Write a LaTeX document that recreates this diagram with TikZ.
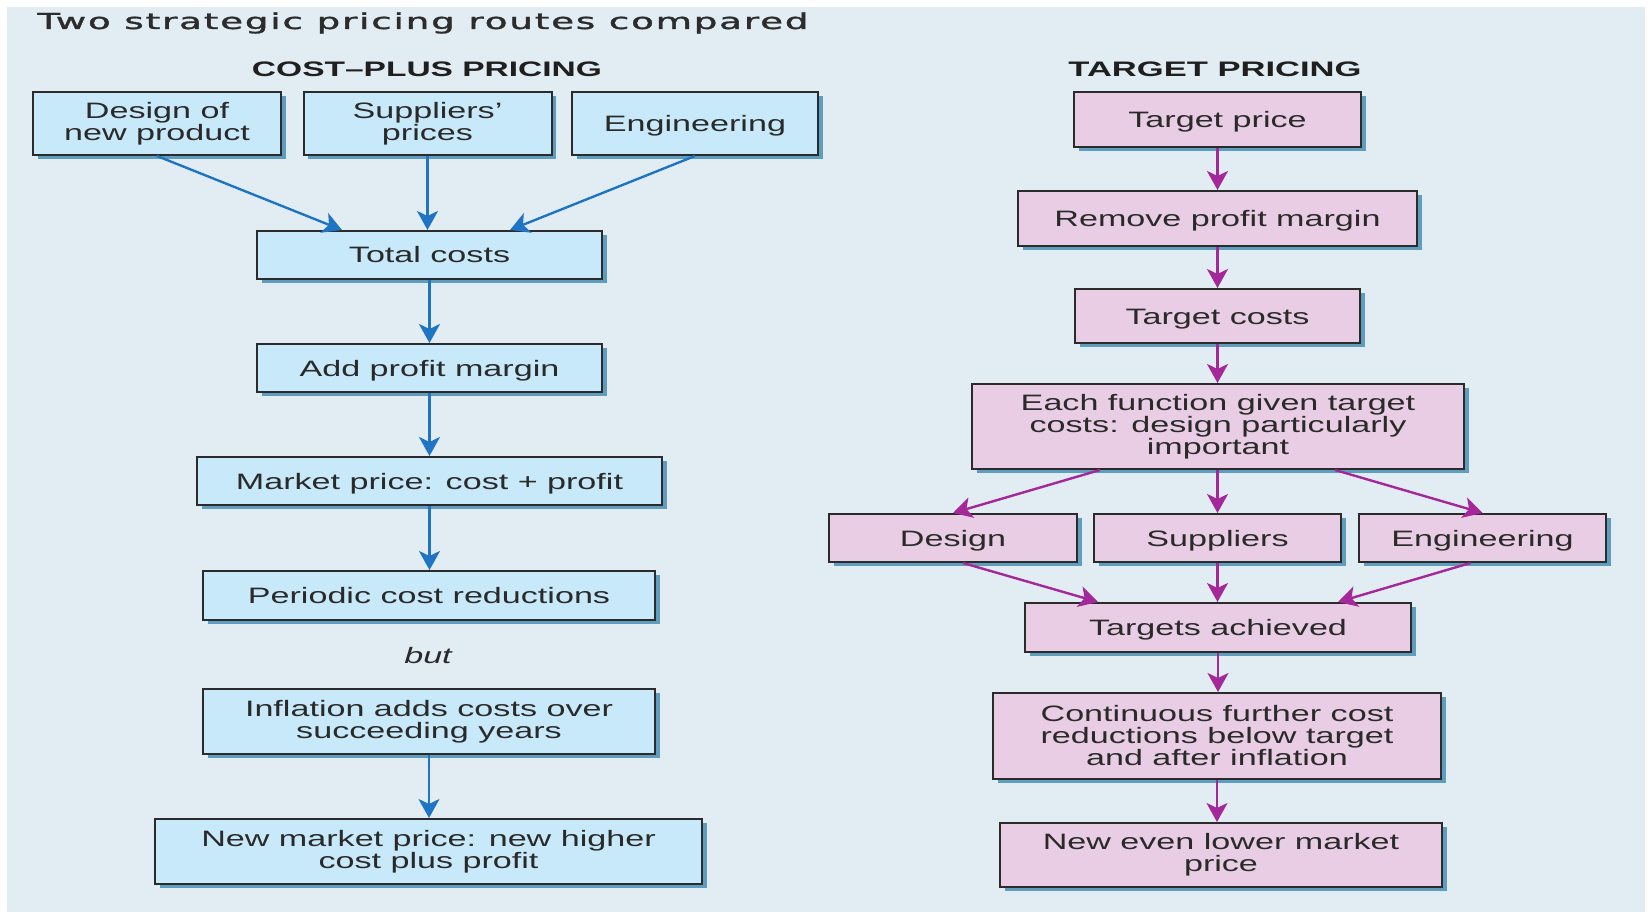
\documentclass[tikz,border=0pt]{standalone}
\usepackage{fontspec}
\usepackage{graphicx}
\setmainfont[FakeStretch=1.53]{Liberation Sans}
\newfontfamily\headfont{Liberation Sans}
\newfontfamily\titlefont[LetterSpace=5,FakeBold=1.2]{DejaVu Sans}
\usetikzlibrary{arrows.meta,shadows}
\definecolor{panel}{HTML}{E1ECF3}
\definecolor{bluefill}{HTML}{C8E9F9}
\definecolor{pinkfill}{HTML}{E8CDE4}
\definecolor{boxline}{HTML}{2B2B2B}
\definecolor{shadowc}{HTML}{5E9DBD}
\definecolor{bluearr}{HTML}{1F74C3}
\definecolor{pinkarr}{HTML}{A5289A}
\definecolor{txt}{HTML}{2A2A2A}
\definecolor{titlec}{HTML}{2C2C2C}
\tikzset{
  box/.style={draw=boxline, line width=1pt, inner sep=0pt, align=center, text=txt,
    font=\fontsize{11.15}{11}\selectfont,
    drop shadow={shadow xshift=2.3pt, shadow yshift=-2pt, fill=shadowc, opacity=1}},
  bluebox/.style={box, fill=bluefill},
  pinkbox/.style={box, fill=pinkfill},
  single/.style={text height=8pt, text depth=0pt},
  sz/.style 2 args={minimum width=#1pt, minimum height=#2pt},
  barrow/.style={draw=bluearr, line width=1.2pt, -{Stealth[length=9.5pt,width=10.5pt,inset=2.5pt]}},
  parrow/.style={draw=pinkarr, line width=1.2pt, -{Stealth[length=9.5pt,width=10.5pt,inset=2.5pt]}},
  heading/.style={anchor=base, inner sep=0pt, text=black!88, font=\headfont\bfseries\fontsize{10.5}{12}\selectfont}
}
\begin{document}
\begin{tikzpicture}[x=0.5pt,y=-0.5pt]
\useasboundingbox (0,0) rectangle (1651,915);
\fill[white] (0,0) rectangle (1651,915);
\fill[panel] (7,7) rectangle (1645,912);

% title and headings
\node[anchor=base west, inner sep=0pt, text=titlec, font=\titlefont\fontsize{11}{12}\selectfont] (title) at (37,29)
  {\resizebox{385.5pt}{\height}{Two strategic pricing routes compared}};
\node[heading] (h1) at (427,77) {\resizebox{175pt}{\height}{COST–PLUS PRICING}};
\node[heading] (h2) at (1215,77) {\resizebox{146.5pt}{\height}{TARGET PRICING}};

% left column: cost-plus pricing
\node[bluebox, sz={124}{31.5}] (L1) at (157,123.5) {Design of\\new product};
\node[bluebox, sz={124}{31.5}] (L2) at (427.5,123.5) {Suppliers’\\prices};
\node[bluebox, sz={123}{31.5}, single] (L3) at (695,123.5) {Engineering};
\node[bluebox, sz={172.5}{24}, single] (L4) at (429.5,255) {Total costs};
\node[bluebox, sz={172.5}{24}, single] (L5) at (429.5,368) {Add profit margin};
\node[bluebox, sz={232.5}{24}, single] (L6) at (429.5,481) {Market price: cost + profit};
\node[bluebox, sz={226}{24.5}, single] (L7) at (429,595.5) {Periodic cost reductions};
\node[anchor=base, inner sep=0pt, text=txt, font=\itshape\fontsize{11.15}{12}\selectfont] (but) at (428,663) {but};
\node[bluebox, sz={226}{32.5}] (L8) at (429,721.5) {Inflation adds costs over\\succeeding years};
\node[bluebox, sz={273.5}{32.5}] (L9) at (428.5,851.5) {New market price: new higher\\cost plus profit};

\draw[barrow] (L1.south) -- ([xshift=-43.75pt]L4.north);
\draw[barrow] (L2.south) -- (L2.south |- L4.north);
\draw[barrow] (L3.south) -- ([xshift=40.25pt]L4.north);
\draw[barrow] (L4.south) -- (L5.north);
\draw[barrow] (L5.south) -- (L6.north);
\draw[barrow] (L6.south) -- (L6.south |- L7.north);
\draw[barrow] (L8.south) -- (L8.south |- L9.north);

% right column: target pricing
\node[pinkbox, sz={143.5}{27.5}, single] (R1) at (1217.5,119.5) {Target price};
\node[pinkbox, sz={199.5}{27.5}, single] (R2) at (1217.5,218.5) {Remove profit margin};
\node[pinkbox, sz={142.5}{27}, single] (R3) at (1217.5,316) {Target costs};
\node[pinkbox, sz={246}{42.5}] (R4) at (1218,426.5) {Each function given target\\costs: design particularly\\important};
\node[pinkbox, sz={124}{24}, single] (R5) at (953,538) {Design};
\node[pinkbox, sz={123.5}{24}, single] (R6) at (1217.5,538) {Suppliers};
\node[pinkbox, sz={123.5}{24}, single] (R7) at (1482.5,538) {Engineering};
\node[pinkbox, sz={193}{24.5}, single] (R8) at (1218,627.5) {Targets achieved};
\node[pinkbox, sz={224}{43}] (R9) at (1217,736) {Continuous further cost\\reductions below target\\and after inflation};
\node[pinkbox, sz={221}{32}] (R10) at (1221,855) {New even lower market\\price};

\draw[parrow] (R1.south) -- (R2.north);
\draw[parrow] (R2.south) -- (R3.north);
\draw[parrow] (R3.south) -- (R3.south |- R4.north);
\draw[parrow] ([xshift=-59pt]R4.south) -- (R5.north);
\draw[parrow] (R6.north |- R4.south) -- (R6.north);
\draw[parrow] ([xshift=58.5pt]R4.south) -- (R7.north);
\draw[parrow] ([xshift=5pt]R5.south) -- ([xshift=-60pt]R8.north);
\draw[parrow] (R6.south) -- (R6.south |- R8.north);
\draw[parrow] ([xshift=-6pt]R7.south) -- ([xshift=60pt]R8.north);
\draw[parrow] (R8.south) -- (R8.south |- R9.north);
\draw[parrow] (R9.south) -- (R9.south |- R10.north);
\end{tikzpicture}
\end{document}
